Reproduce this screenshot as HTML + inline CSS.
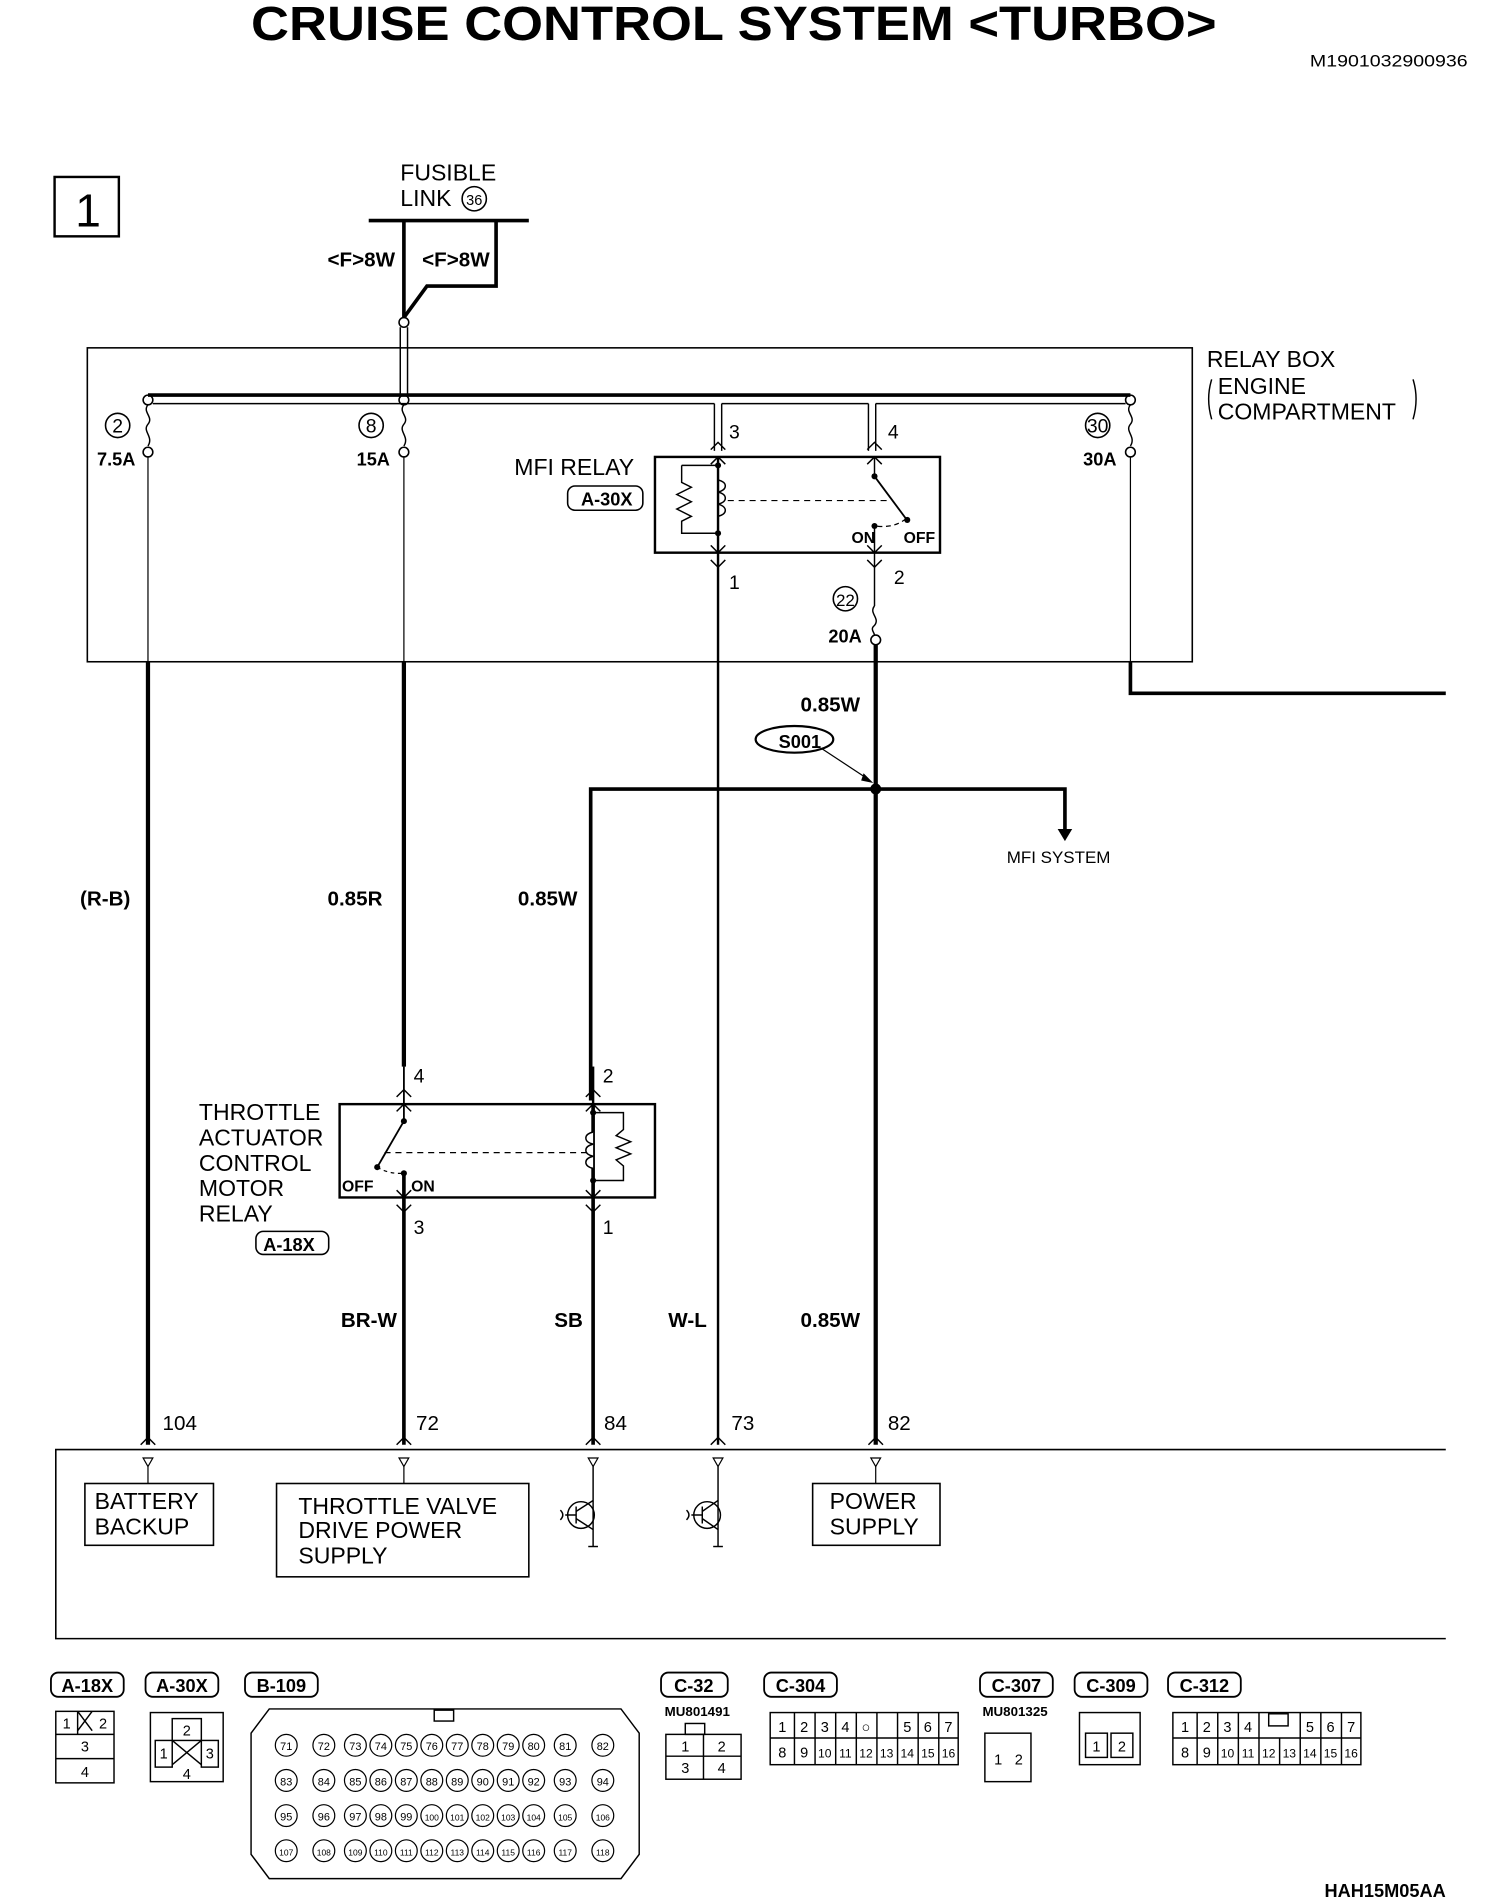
<!DOCTYPE html>
<html><head><meta charset="utf-8"><style>
html,body{margin:0;padding:0;background:#fff}
svg{display:block}
text{font-family:"Liberation Sans Narrow","Liberation Sans",sans-serif;fill:#000}
.b{font-weight:bold}
</style></head><body>
<svg width="1504" height="1898" viewBox="0 0 1240 1566" preserveAspectRatio="none" xmlns="http://www.w3.org/2000/svg">
<text x="207" y="33" class="b" font-size="40" textLength="796" lengthAdjust="spacingAndGlyphs">CRUISE CONTROL SYSTEM &lt;TURBO&gt;</text>
<text x="1080" y="55" font-size="14" textLength="130" lengthAdjust="spacingAndGlyphs">M1901032900936</text>
<rect x="45" y="146" width="53" height="49" fill="none" stroke="#000" stroke-width="2"/>
<text x="62" y="187" font-size="38">1</text>
<text x="330" y="149" font-size="19">FUSIBLE</text>
<text x="330" y="170" font-size="19">LINK</text>
<circle cx="391" cy="164" r="10" fill="none" stroke="#000" stroke-width="1.3"/>
<text x="391" y="169" font-size="12" text-anchor="middle">36</text>
<g fill="none" stroke="#000">
<line x1="304" y1="182" x2="436" y2="182" stroke-width="3"/>
<polyline points="409,182 409,236 352,236 333,262" stroke-width="3"/>
<line x1="333" y1="182" x2="333" y2="262" stroke-width="3"/>
<circle cx="333" cy="266" r="4" stroke-width="1.3"/>
<line x1="330" y1="270" x2="330" y2="326" stroke-width="1.2"/>
<line x1="336" y1="270" x2="336" y2="326" stroke-width="1.2"/>
<rect x="72" y="287" width="911" height="259" stroke-width="1.3"/>
<line x1="122" y1="326" x2="932" y2="326" stroke-width="3"/>
<line x1="126" y1="333" x2="589" y2="333" stroke-width="1.2"/>
<line x1="595" y1="333" x2="716" y2="333" stroke-width="1.2"/>
<line x1="722" y1="333" x2="928" y2="333" stroke-width="1.2"/>
<circle cx="122" cy="330" r="4" stroke-width="1.3"/>
<circle cx="333" cy="330" r="4" stroke-width="1.3"/>
<circle cx="932" cy="330" r="4" stroke-width="1.3"/>
<path d="M122,334 c-5,6 5,10 0,16 c-5,6 5,10 0,18" stroke-width="1.2"/>
<circle cx="122" cy="373" r="4" stroke-width="1.3"/>
<path d="M333,334 c-5,6 5,10 0,16 c-5,6 5,10 0,18" stroke-width="1.2"/>
<circle cx="333" cy="373" r="4" stroke-width="1.3"/>
<path d="M932,334 c-5,6 5,10 0,16 c-5,6 5,10 0,18" stroke-width="1.2"/>
<circle cx="932" cy="373" r="4" stroke-width="1.3"/>
<line x1="122" y1="377" x2="122" y2="546" stroke-width="1"/>
<line x1="333" y1="377" x2="333" y2="546" stroke-width="1"/>
<line x1="932" y1="377" x2="932" y2="546" stroke-width="1"/>
<line x1="589" y1="333" x2="589" y2="372" stroke-width="1.2"/>
<line x1="595" y1="333" x2="595" y2="372" stroke-width="1.2"/>
<line x1="716" y1="333" x2="716" y2="372" stroke-width="1.2"/>
<line x1="722" y1="333" x2="722" y2="372" stroke-width="1.2"/>
<rect x="540" y="377" width="235" height="79" stroke-width="2"/>
<polyline points="586,371 592,365 598,371" stroke-width="1.2"/>
<polyline points="586,383 592,377 598,383" stroke-width="1.2"/>
<polyline points="715,371 721,365 727,371" stroke-width="1.2"/>
<polyline points="715,383 721,377 727,383" stroke-width="1.2"/>
<line x1="592" y1="377" x2="592" y2="546" stroke-width="2"/>
<polyline points="586,450 592,456 598,450" stroke-width="1.2"/>
<polyline points="586,462 592,468 598,462" stroke-width="1.2"/>
<polyline points="562,384 592,384" stroke-width="1.2"/>
<polyline points="562,384 562,398 570,402 558,408 570,414 558,420 570,426 562,430 562,440 592,440" stroke-width="1.2"/>
<path d="M592,396 c8,2 8,8 0,10 c8,2 8,8 0,10 c8,2 8,8 0,10" stroke-width="1.2"/>
<line x1="600" y1="413" x2="735" y2="413" stroke-dasharray="5,4" stroke-width="1"/>
<line x1="721" y1="377" x2="721" y2="393" stroke-width="1.2"/>
<line x1="721" y1="393" x2="747" y2="428" stroke-width="1.5"/>
<path d="M747,428 q-10,8 -25,6" stroke-dasharray="4,3" stroke-width="1"/>
<line x1="721" y1="434" x2="721" y2="500" stroke-width="1.2"/>
<polyline points="715,450 721,456 727,450" stroke-width="1.2"/>
<polyline points="715,462 721,468 727,462" stroke-width="1.2"/>
<path d="M721,500 c-5,6 5,10 0,16 c-4,3 0,6 0,8" stroke-width="1.2"/>
<circle cx="722" cy="528" r="4" stroke-width="1.3"/>
<circle cx="697" cy="494" r="10" stroke-width="1.3"/>
<ellipse cx="655" cy="610" rx="32" ry="11" stroke-width="1.8"/>
<line x1="678" y1="618" x2="716" y2="643" stroke-width="1"/>
<line x1="122" y1="546" x2="122" y2="1192" stroke-width="3.5"/>
<line x1="333" y1="546" x2="333" y2="880" stroke-width="3.5"/>
<line x1="722" y1="532" x2="722" y2="1192" stroke-width="3.5"/>
<polyline points="932,546 932,572 1192,572" stroke-width="3"/>
<polyline points="487,908 487,651 878,651 878,686" stroke-width="3"/>
<line x1="592" y1="546" x2="592" y2="1192" stroke-width="2"/>
<rect x="280" y="911" width="260" height="77" stroke-width="2"/>
<line x1="333" y1="880" x2="333" y2="925" stroke-width="1.5"/>
<line x1="489" y1="880" x2="489" y2="911" stroke-width="2"/>
<polyline points="327,905 333,899 339,905" stroke-width="1.2"/>
<polyline points="327,917 333,911 339,917" stroke-width="1.2"/>
<polyline points="483,905 489,899 495,905" stroke-width="1.2"/>
<polyline points="483,917 489,911 495,917" stroke-width="1.2"/>
<line x1="333" y1="925" x2="311" y2="963" stroke-width="1.5"/>
<line x1="317" y1="951" x2="485" y2="951" stroke-dasharray="5,4" stroke-width="1"/>
<path d="M311,963 q10,6 22,5" stroke-dasharray="3,3" stroke-width="1"/>
<line x1="333" y1="968" x2="333" y2="1192" stroke-width="3"/>
<polyline points="327,982 333,988 339,982" stroke-width="1.2"/>
<polyline points="327,994 333,1000 339,994" stroke-width="1.2"/>
<line x1="489" y1="911" x2="489" y2="1192" stroke-width="3"/>
<polyline points="483,982 489,988 495,982" stroke-width="1.2"/>
<polyline points="483,994 489,1000 495,994" stroke-width="1.2"/>
<polyline points="489,918 514,918 514,932 508,937 520,942 508,947 520,952 508,957 514,962 514,974 489,974" stroke-width="1.2"/>
<path d="M489,934 c-8,2 -8,8 0,10 c-8,2 -8,8 0,10 c-8,2 -8,8 0,10" stroke-width="1.2" fill="#fff"/>
<polyline points="1192,1196 46,1196 46,1352 1192,1352" stroke-width="1.3"/>
<polyline points="116,1192 122,1186 128,1192" stroke-width="1.2"/>
<polyline points="327,1192 333,1186 339,1192" stroke-width="1.2"/>
<polyline points="483,1192 489,1186 495,1192" stroke-width="1.2"/>
<polyline points="586,1192 592,1186 598,1192" stroke-width="1.2"/>
<polyline points="716,1192 722,1186 728,1192" stroke-width="1.2"/>
<g stroke-width="1">
<polygon points="118,1203 126,1203 122,1210"/><line x1="122" y1="1210" x2="122" y2="1224"/>
<polygon points="329,1203 337,1203 333,1210"/><line x1="333" y1="1210" x2="333" y2="1224"/>
<polygon points="485,1203 493,1203 489,1210"/>
<polygon points="588,1203 596,1203 592,1210"/>
<polygon points="718,1203 726,1203 722,1210"/><line x1="722" y1="1210" x2="722" y2="1224"/>
</g>
<rect x="70" y="1224" width="106" height="51" stroke-width="1.3"/>
<rect x="228" y="1224" width="208" height="77" stroke-width="1.3"/>
<rect x="670" y="1224" width="105" height="51" stroke-width="1.3"/>
<g stroke-width="1.2">
<circle cx="479" cy="1250" r="11"/><line x1="475" y1="1243" x2="475" y2="1257"/>
<line x1="475" y1="1247" x2="489" y2="1238"/><line x1="475" y1="1253" x2="489" y2="1262"/>
<line x1="489" y1="1210" x2="489" y2="1276"/><path d="M466,1250 h9 M462,1246 q4,4 0,8"/>
<line x1="485" y1="1276" x2="493" y2="1276"/>
<circle cx="583" cy="1250" r="11"/><line x1="579" y1="1243" x2="579" y2="1257"/>
<line x1="579" y1="1247" x2="592" y2="1238"/><line x1="579" y1="1253" x2="592" y2="1262"/>
<line x1="592" y1="1210" x2="592" y2="1276"/><path d="M570,1250 h9 M566,1246 q4,4 0,8"/>
<line x1="588" y1="1276" x2="596" y2="1276"/>
</g>
</g>
<g fill="#000">
<circle cx="722" cy="651" r="4.5"/>
<polygon points="872,684 884,684 878,694"/>
<polygon points="712,638 720,646 710,644"/>
<circle cx="592" cy="384" r="2.5"/><circle cx="592" cy="440" r="2.5"/>
<circle cx="721" cy="393" r="2.5"/><circle cx="748" cy="429" r="2.5"/><circle cx="721" cy="434" r="2.5"/>
<circle cx="333" cy="925" r="2.5"/><circle cx="311" cy="963" r="2.5"/><circle cx="333" cy="968" r="2.5"/>
<circle cx="489" cy="918" r="2.5"/><circle cx="489" cy="974" r="2.5"/>
</g>
<g font-size="17" class="b">
<text x="270" y="220">&lt;F&gt;8W</text><text x="348" y="220">&lt;F&gt;8W</text>
<text x="80" y="384" font-size="15">7.5A</text><text x="294" y="384" font-size="15">15A</text><text x="893" y="384" font-size="15">30A</text>
<text x="683" y="530" font-size="15">20A</text>
<text x="660" y="587">0.85W</text>
<text x="66" y="747">(R-B)</text><text x="270" y="747">0.85R</text><text x="427" y="747">0.85W</text>
<text x="281" y="1095">BR-W</text><text x="457" y="1095">SB</text><text x="551" y="1095">W-L</text><text x="660" y="1095">0.85W</text>
<text x="642" y="617" font-size="15">S001</text>
<text x="479" y="417" font-size="15">A-30X</text>
<text x="217" y="1032" font-size="15">A-18X</text>
<text x="702" y="448" font-size="13">ON</text><text x="745" y="448" font-size="13">OFF</text>
<text x="282" y="983" font-size="13">OFF</text><text x="339" y="983" font-size="13">ON</text>
</g>
<g fill="none" stroke="#000" stroke-width="1.3">
<circle cx="97" cy="351" r="10"/><circle cx="306" cy="351" r="10"/><circle cx="905" cy="351" r="10"/>
<rect x="468" y="401" width="62" height="20" rx="6"/>
<rect x="211" y="1016" width="60" height="19" rx="6"/>
</g>
<g font-size="16">
<text x="97" y="357" text-anchor="middle">2</text><text x="306" y="357" text-anchor="middle">8</text><text x="905" y="357" text-anchor="middle">30</text>
<text x="697" y="500" text-anchor="middle" font-size="14">22</text>
<text x="601" y="362">3</text><text x="732" y="362">4</text><text x="601" y="486">1</text><text x="737" y="482">2</text>
<text x="424" y="392" font-size="19">MFI RELAY</text>
<text x="995" y="303" font-size="19">RELAY BOX</text>
<text x="1004" y="325" font-size="19">ENGINE</text>
<text x="1004" y="346" font-size="19">COMPARTMENT</text>
<text x="830" y="712" font-size="14">MFI SYSTEM</text>
<text x="341" y="893">4</text><text x="497" y="893">2</text><text x="341" y="1018">3</text><text x="497" y="1018">1</text>
<text x="164" y="924" font-size="19">THROTTLE</text><text x="164" y="945" font-size="19">ACTUATOR</text>
<text x="164" y="966" font-size="19">CONTROL</text><text x="164" y="987" font-size="19">MOTOR</text><text x="164" y="1008" font-size="19">RELAY</text>
<text x="134" y="1180" font-size="17">104</text><text x="343" y="1180" font-size="17">72</text><text x="498" y="1180" font-size="17">84</text>
<text x="603" y="1180" font-size="17">73</text><text x="732" y="1180" font-size="17">82</text>
<text x="78" y="1245" font-size="19">BATTERY</text><text x="78" y="1266" font-size="19">BACKUP</text>
<text x="246" y="1249" font-size="19">THROTTLE VALVE</text><text x="246" y="1269" font-size="19">DRIVE POWER</text><text x="246" y="1290" font-size="19">SUPPLY</text>
<text x="684" y="1245" font-size="19">POWER</text><text x="684" y="1266" font-size="19">SUPPLY</text>
</g>
<g fill="none" stroke="#000" stroke-width="1.2">
<path d="M999,313 q-5,16 0,33 M1165,313 q5,16 0,33"/>
</g>
<g fill="none" stroke="#000" stroke-width="1.5">
<rect x="42" y="1380" width="60" height="20" rx="6"/>
<rect x="120" y="1380" width="60" height="20" rx="6"/>
<rect x="202" y="1380" width="60" height="20" rx="6"/>
<rect x="545" y="1380" width="55" height="20" rx="6"/>
<rect x="630" y="1380" width="60" height="20" rx="6"/>
<rect x="808" y="1380" width="60" height="20" rx="6"/>
<rect x="886" y="1380" width="60" height="20" rx="6"/>
<rect x="963" y="1380" width="60" height="20" rx="6"/>
<g stroke-width="1.2">
<rect x="46" y="1412" width="48" height="59"/><line x1="46" y1="1431" x2="94" y2="1431"/><line x1="46" y1="1451" x2="94" y2="1451"/>
<line x1="64" y1="1412" x2="64" y2="1431"/><line x1="64" y1="1412" x2="76" y2="1428"/><line x1="76" y1="1412" x2="64" y2="1428"/>
<rect x="124" y="1413" width="60" height="57"/>
<rect x="142" y="1418" width="24" height="18"/><rect x="128" y="1436" width="14" height="22"/><rect x="166" y="1436" width="14" height="22"/>
<line x1="142" y1="1436" x2="166" y2="1456"/><line x1="166" y1="1436" x2="142" y2="1456"/>
<rect x="549" y="1431" width="62" height="37"/><rect x="565" y="1422" width="16" height="9"/><line x1="549" y1="1449" x2="611" y2="1449"/>
<line x1="580" y1="1431" x2="580" y2="1468"/>
<rect x="635" y="1413" width="155" height="43"/><line x1="635" y1="1434" x2="790" y2="1434"/>
<line x1="655" y1="1413" x2="655" y2="1456"/><line x1="672" y1="1413" x2="672" y2="1456"/><line x1="689" y1="1413" x2="689" y2="1456"/><line x1="706" y1="1413" x2="706" y2="1456"/><line x1="723" y1="1413" x2="723" y2="1456"/><line x1="740" y1="1413" x2="740" y2="1456"/><line x1="757" y1="1413" x2="757" y2="1456"/><line x1="774" y1="1413" x2="774" y2="1456"/>
<rect x="812" y="1430" width="38" height="40"/>
<rect x="890" y="1413" width="50" height="43"/><rect x="895" y="1430" width="18" height="20"/><rect x="916" y="1430" width="18" height="20"/>
<rect x="967" y="1413" width="155" height="43"/><line x1="967" y1="1434" x2="1122" y2="1434"/><rect x="1046" y="1414" width="16" height="10"/>
<line x1="987" y1="1413" x2="987" y2="1456"/><line x1="1004" y1="1413" x2="1004" y2="1456"/><line x1="1021" y1="1413" x2="1021" y2="1456"/><line x1="1038" y1="1413" x2="1038" y2="1456"/><line x1="1055" y1="1434" x2="1055" y2="1456"/><line x1="1072" y1="1413" x2="1072" y2="1456"/><line x1="1089" y1="1413" x2="1089" y2="1456"/><line x1="1106" y1="1413" x2="1106" y2="1456"/>
<path d="M222,1410 h290 l15,20 v100 l-15,20 h-290 l-15,-20 v-100 z"/>
<rect x="358" y="1411" width="16" height="9"/>
</g>
</g>
<g font-size="15" class="b">
<text x="72" y="1396" text-anchor="middle">A-18X</text><text x="150" y="1396" text-anchor="middle">A-30X</text>
<text x="232" y="1396" text-anchor="middle">B-109</text><text x="572" y="1396" text-anchor="middle">C-32</text>
<text x="660" y="1396" text-anchor="middle">C-304</text><text x="838" y="1396" text-anchor="middle">C-307</text>
<text x="916" y="1396" text-anchor="middle">C-309</text><text x="993" y="1396" text-anchor="middle">C-312</text>
<text x="548" y="1416" font-size="11">MU801491</text><text x="810" y="1416" font-size="11">MU801325</text>
<text x="1092" y="1565" font-size="15">HAH15M05AA</text>
</g>
<g font-size="12" text-anchor="middle">
<text x="55" y="1426">1</text><text x="85" y="1426">2</text><text x="70" y="1445">3</text><text x="70" y="1466">4</text>
<text x="154" y="1432">2</text><text x="135" y="1451">1</text><text x="173" y="1451">3</text><text x="154" y="1468">4</text>
<text x="565" y="1445">1</text><text x="595" y="1445">2</text><text x="565" y="1463">3</text><text x="595" y="1463">4</text>
<text x="823" y="1456">1</text><text x="840" y="1456">2</text>
<text x="904" y="1445">1</text><text x="925" y="1445">2</text>
<text x="645" y="1429">1</text><text x="663" y="1429">2</text><text x="680" y="1429">3</text><text x="697" y="1429">4</text><text x="714" y="1429">○</text><text x="748" y="1429">5</text><text x="765" y="1429">6</text><text x="782" y="1429">7</text>
<text x="645" y="1450">8</text><text x="663" y="1450">9</text><text x="680" y="1450" font-size="10">10</text><text x="697" y="1450" font-size="10">11</text><text x="714" y="1450" font-size="10">12</text><text x="731" y="1450" font-size="10">13</text><text x="748" y="1450" font-size="10">14</text><text x="765" y="1450" font-size="10">15</text><text x="782" y="1450" font-size="10">16</text>
<text x="977" y="1429">1</text><text x="995" y="1429">2</text><text x="1012" y="1429">3</text><text x="1029" y="1429">4</text><text x="1080" y="1429">5</text><text x="1097" y="1429">6</text><text x="1114" y="1429">7</text>
<text x="977" y="1450">8</text><text x="995" y="1450">9</text><text x="1012" y="1450" font-size="10">10</text><text x="1029" y="1450" font-size="10">11</text><text x="1046" y="1450" font-size="10">12</text><text x="1063" y="1450" font-size="10">13</text><text x="1080" y="1450" font-size="10">14</text><text x="1097" y="1450" font-size="10">15</text><text x="1114" y="1450" font-size="10">16</text>
</g>
<g font-size="9" text-anchor="middle">
<g fill="none" stroke="#000" stroke-width="1">
<circle cx="236" cy="1440" r="9"/><circle cx="267" cy="1440" r="9"/><circle cx="293" cy="1440" r="9"/><circle cx="314" cy="1440" r="9"/><circle cx="335" cy="1440" r="9"/><circle cx="356" cy="1440" r="9"/><circle cx="377" cy="1440" r="9"/><circle cx="398" cy="1440" r="9"/><circle cx="419" cy="1440" r="9"/><circle cx="440" cy="1440" r="9"/><circle cx="466" cy="1440" r="9"/><circle cx="497" cy="1440" r="9"/>
<circle cx="236" cy="1469" r="9"/><circle cx="267" cy="1469" r="9"/><circle cx="293" cy="1469" r="9"/><circle cx="314" cy="1469" r="9"/><circle cx="335" cy="1469" r="9"/><circle cx="356" cy="1469" r="9"/><circle cx="377" cy="1469" r="9"/><circle cx="398" cy="1469" r="9"/><circle cx="419" cy="1469" r="9"/><circle cx="440" cy="1469" r="9"/><circle cx="466" cy="1469" r="9"/><circle cx="497" cy="1469" r="9"/>
<circle cx="236" cy="1498" r="9"/><circle cx="267" cy="1498" r="9"/><circle cx="293" cy="1498" r="9"/><circle cx="314" cy="1498" r="9"/><circle cx="335" cy="1498" r="9"/><circle cx="356" cy="1498" r="9"/><circle cx="377" cy="1498" r="9"/><circle cx="398" cy="1498" r="9"/><circle cx="419" cy="1498" r="9"/><circle cx="440" cy="1498" r="9"/><circle cx="466" cy="1498" r="9"/><circle cx="497" cy="1498" r="9"/>
<circle cx="236" cy="1527" r="9"/><circle cx="267" cy="1527" r="9"/><circle cx="293" cy="1527" r="9"/><circle cx="314" cy="1527" r="9"/><circle cx="335" cy="1527" r="9"/><circle cx="356" cy="1527" r="9"/><circle cx="377" cy="1527" r="9"/><circle cx="398" cy="1527" r="9"/><circle cx="419" cy="1527" r="9"/><circle cx="440" cy="1527" r="9"/><circle cx="466" cy="1527" r="9"/><circle cx="497" cy="1527" r="9"/>
</g>
<text x="236" y="1444">71</text><text x="267" y="1444">72</text><text x="293" y="1444">73</text><text x="314" y="1444">74</text><text x="335" y="1444">75</text><text x="356" y="1444">76</text><text x="377" y="1444">77</text><text x="398" y="1444">78</text><text x="419" y="1444">79</text><text x="440" y="1444">80</text><text x="466" y="1444">81</text><text x="497" y="1444">82</text>
<text x="236" y="1473">83</text><text x="267" y="1473">84</text><text x="293" y="1473">85</text><text x="314" y="1473">86</text><text x="335" y="1473">87</text><text x="356" y="1473">88</text><text x="377" y="1473">89</text><text x="398" y="1473">90</text><text x="419" y="1473">91</text><text x="440" y="1473">92</text><text x="466" y="1473">93</text><text x="497" y="1473">94</text>
<text x="236" y="1502">95</text><text x="267" y="1502">96</text><text x="293" y="1502">97</text><text x="314" y="1502">98</text><text x="335" y="1502">99</text><text x="356" y="1502" font-size="7">100</text><text x="377" y="1502" font-size="7">101</text><text x="398" y="1502" font-size="7">102</text><text x="419" y="1502" font-size="7">103</text><text x="440" y="1502" font-size="7">104</text><text x="466" y="1502" font-size="7">105</text><text x="497" y="1502" font-size="7">106</text>
<text x="236" y="1531" font-size="7">107</text><text x="267" y="1531" font-size="7">108</text><text x="293" y="1531" font-size="7">109</text><text x="314" y="1531" font-size="7">110</text><text x="335" y="1531" font-size="7">111</text><text x="356" y="1531" font-size="7">112</text><text x="377" y="1531" font-size="7">113</text><text x="398" y="1531" font-size="7">114</text><text x="419" y="1531" font-size="7">115</text><text x="440" y="1531" font-size="7">116</text><text x="466" y="1531" font-size="7">117</text><text x="497" y="1531" font-size="7">118</text>
</g>
</svg>
</body></html>
